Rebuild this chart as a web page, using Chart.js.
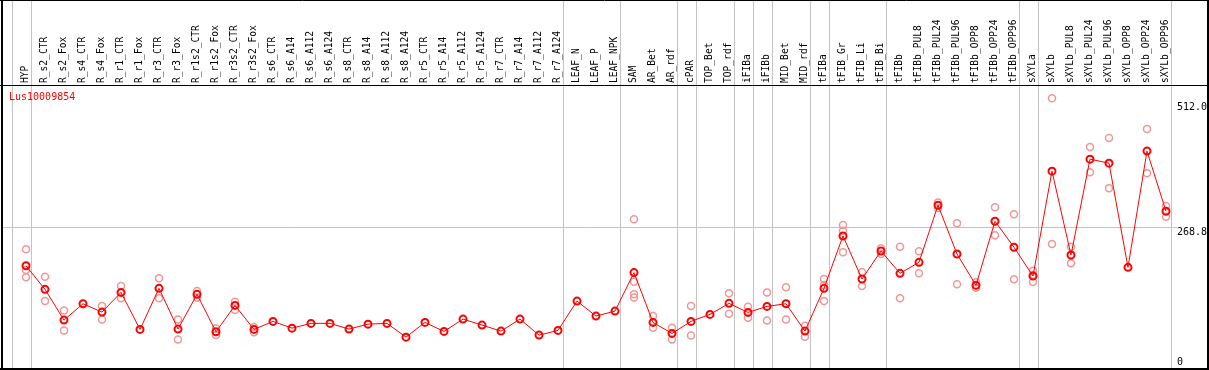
<!DOCTYPE html>
<html>
<head>
<meta charset="utf-8">
<script src="https://cdn.jsdelivr.net/npm/chart.js@4/dist/chart.umd.min.js"></script>
<style>
  html, body { margin: 0; padding: 0; background: #fff; }
  #wrap { position: relative; width: 1209px; height: 370px; }
  #title { position: absolute; left: 9px; top: 91px; color: #ff0000;
           font: 10px "DejaVu Sans Mono", monospace; line-height: 12px; white-space: nowrap; }
</style>
</head>
<body>
<div id="wrap">
  <canvas id="c" width="1209" height="370"></canvas>
  <div id="title">Lus10009854</div>
</div>
<script>
const categories = ["HYP","R_s2_CTR","R_s2_Fox","R_s4_CTR","R_s4_Fox","R_r1_CTR","R_r1_Fox","R_r3_CTR","R_r3_Fox",
  "R_r1s2_CTR","R_r1s2_Fox","R_r3s2_CTR","R_r3s2_Fox","R_s6_CTR","R_s6_A14","R_s6_A112","R_s6_A124",
  "R_s8_CTR","R_s8_A14","R_s8_A112","R_s8_A124","R_r5_CTR","R_r5_A14","R_r5_A112","R_r5_A124",
  "R_r7_CTR","R_r7_A14","R_r7_A112","R_r7_A124","LEAF_N","LEAF_P","LEAF_NPK","SAM","AR_Bet","AR_rdf",
  "cPAR","TOP_Bet","TOP_rdf","iFIBa","iFIBb","MID_Bet","MID_rdf","tFIBa","tFIB_Gr","tFIB_Li","tFIB_Bi",
  "tFIBb","tFIBb_PUL8","tFIBb_PUL24","tFIBb_PUL96","tFIBb_OPP8","tFIBb_OPP24","tFIBb_OPP96",
  "sXYLa","sXYLb","sXYLb_PUL8","sXYLb_PUL24","sXYLb_PUL96","sXYLb_OPP8","sXYLb_OPP24","sXYLb_OPP96"];

const meanValues = [197.9,153.6,95.9,126.5,110.9,147.9,78.4,155.5,79.0,
  144.2,73.9,123.5,78.4,93.4,80.8,89.7,89.7,
  79.0,88.3,89.7,63.9,91.5,74.6,97.7,86.5,
  75.2,97.7,67.7,76.5,131.6,103.4,112.8,185.0,91.5,70.9,
  93.4,106.6,127.3,110.3,121.6,126.5,75.2,155.5,253.8,172.9,225.6,
  183.6,204.3,311.5,219.9,161.1,281.4,232.5,
  178.6,375.4,218.0,397.9,390.4,194.9,413.0,300.2];

const replicateValues = [
  [228.8,189.9,176.1],[177.3,131.6],[114.1,76.5],[],[122.2,97.2],[159.8,136.7],[],[174.2,136.7],[97.2,59.6],
  [150.4,138.0],[80.3,67.7],[130.3,114.7],[82.7,73.3],[],[],[],[],
  [],[],[],[],[],[],[],[],
  [],[],[],[],[],[],[],[285.2,167.9,144.2,138.5],[103.4,81.4],[81.4,70.9,59.6],
  [122.2,67.1],[],[146.1,107.7],[120.9,100.2],[147.9,95.3],[157.3,97.2],[85.2,64.5],[172.9,161.7,131.6],[274.4,263.7,223.1],[186.1,159.8],[230.6,219.9],
  [233.6,136.7],[225.0,183.6],[316.4,306.4],[277.6,163.0],[166.7,156.6],[307.7,255.1],[294.5,172.4],
  [188.5,180.5,167.3],[512.0,238.7],[233.6,202.4],[420.5,373.5],[437.4,343.4],[],[454.3,371.6],[310.2,290.0]];

const yTickValues = [0, 268.8, 512];
const yTickLabels = ["0", "268.8", "512.0"];
const yGridValues = [268.8];
const groupEnds = [-1, 0, 28, 31, 34, 35, 37, 38, 39, 41, 42, 45, 52, 53, 60];

const meanPoints = meanValues.map((v, i) => ({x: i, y: v}));
const repPoints = [];
replicateValues.forEach((arr, i) => arr.forEach(v => repPoints.push({x: i, y: v})));

const MONO = "'DejaVu Sans Mono', monospace";

// vertical nudge of the right-hand labels, done with blank lines (line height 4.3px)
const labelNudgeLines = [-4, 2, 4];
function nudgedLabel(text, n) {
  const blanks = new Array(Math.abs(n)).fill('');
  return n < 0 ? [text].concat(blanks) : blanks.concat([text]);
}

function zeroPad(s) { s.paddingLeft = 0; s.paddingRight = 0; s.paddingTop = 0; s.paddingBottom = 0; }

const framePlugin = {
  id: 'frame',
  beforeDraw(chart) {
    const ctx = chart.ctx, xs = chart.scales.x;
    ctx.save();
    ctx.strokeStyle = '#c4c4c4';
    ctx.lineWidth = 1;
    groupEnds.forEach(e => {
      const px = Math.round(xs.getPixelForValue(e + 0.24)) + 0.5;
      ctx.beginPath(); ctx.moveTo(px, 0); ctx.lineTo(px, 370); ctx.stroke();
    });
    ctx.restore();
  },
  afterDraw(chart) {
    const ctx = chart.ctx, W = chart.width, H = chart.height, ca = chart.chartArea;
    ctx.save();
    ctx.strokeStyle = '#000';
    ctx.lineWidth = 1;
    ctx.beginPath(); ctx.moveTo(0, 0.5); ctx.lineTo(W, 0.5); ctx.stroke();
    ctx.beginPath(); ctx.moveTo(0, Math.round(ca.top) - 0.5); ctx.lineTo(W, Math.round(ca.top) - 0.5); ctx.stroke();
    ctx.lineWidth = 2;
    ctx.beginPath(); ctx.moveTo(2, 0); ctx.lineTo(2, H); ctx.stroke();
    ctx.beginPath(); ctx.moveTo(W - 1, 0); ctx.lineTo(W - 1, H); ctx.stroke();
    ctx.beginPath(); ctx.moveTo(0, H - 1); ctx.lineTo(W, H - 1); ctx.stroke();
    ctx.restore();
  }
};

new Chart(document.getElementById('c'), {
  type: 'scatter',
  data: {
    datasets: [
      {
        label: 'mean',
        data: meanPoints,
        showLine: true,
        borderColor: '#ff0000',
        borderWidth: 1,
        pointStyle: 'circle',
        pointRadius: 3.5,
        pointBorderWidth: 2,
        pointBorderColor: '#ff0000',
        pointBackgroundColor: 'rgba(0,0,0,0)',
        order: 0
      },
      {
        label: 'replicates',
        data: repPoints,
        showLine: false,
        pointStyle: 'circle',
        pointRadius: 3.5,
        pointBorderWidth: 1.5,
        pointBorderColor: 'rgb(240,150,150)',
        pointBackgroundColor: 'rgba(0,0,0,0)',
        order: 1
      }
    ]
  },
  options: {
    responsive: false,
    animation: false,
    devicePixelRatio: 1,
    layout: { autoPadding: false, padding: { left: 2, right: 2, top: 0, bottom: 1 } },
    plugins: { legend: { display: false }, tooltip: { enabled: false }, title: { display: false } },
    scales: {
      x: {
        type: 'linear',
        position: 'top',
        min: -1.2632,
        max: 60.579,
        afterBuildTicks: s => { s.ticks = categories.map((c, i) => ({value: i})); },
        afterFit: s => { s.height = 86; zeroPad(s); },
        grid: { display: false, drawTicks: false },
        border: { display: false },
        ticks: {
          autoSkip: false,
          minRotation: 90,
          maxRotation: 90,
          padding: 3,
          labelOffset: 11.5,
          color: '#000',
          font: { family: MONO, size: 9.6 },
          callback: (v, i) => categories[i]
        }
      },
      y: {
        type: 'linear',
        position: 'left',
        min: 4.1,
        max: 535.2,
        afterBuildTicks: s => { s.ticks = yGridValues.map(v => ({value: v})); },
        afterFit: s => { s.width = 0; zeroPad(s); },
        grid: { color: '#c4c4c4', lineWidth: 1, drawTicks: false },
        border: { display: false },
        ticks: { display: false }
      },
      yr: {
        type: 'linear',
        position: 'right',
        min: 4.1,
        max: 535.2,
        afterBuildTicks: s => { s.ticks = yTickValues.map(v => ({value: v})); },
        afterFit: s => { s.width = 30; zeroPad(s); },
        grid: { display: false, drawTicks: false },
        border: { display: false },
        ticks: {
          autoSkip: false,
          padding: 0,
          color: '#000',
          font: { family: MONO, size: 10, lineHeight: 0.43 },
          callback: (v, i) => nudgedLabel(yTickLabels[i], labelNudgeLines[i])
        }
      }
    }
  },
  plugins: [framePlugin]
});
</script>
</body>
</html>
